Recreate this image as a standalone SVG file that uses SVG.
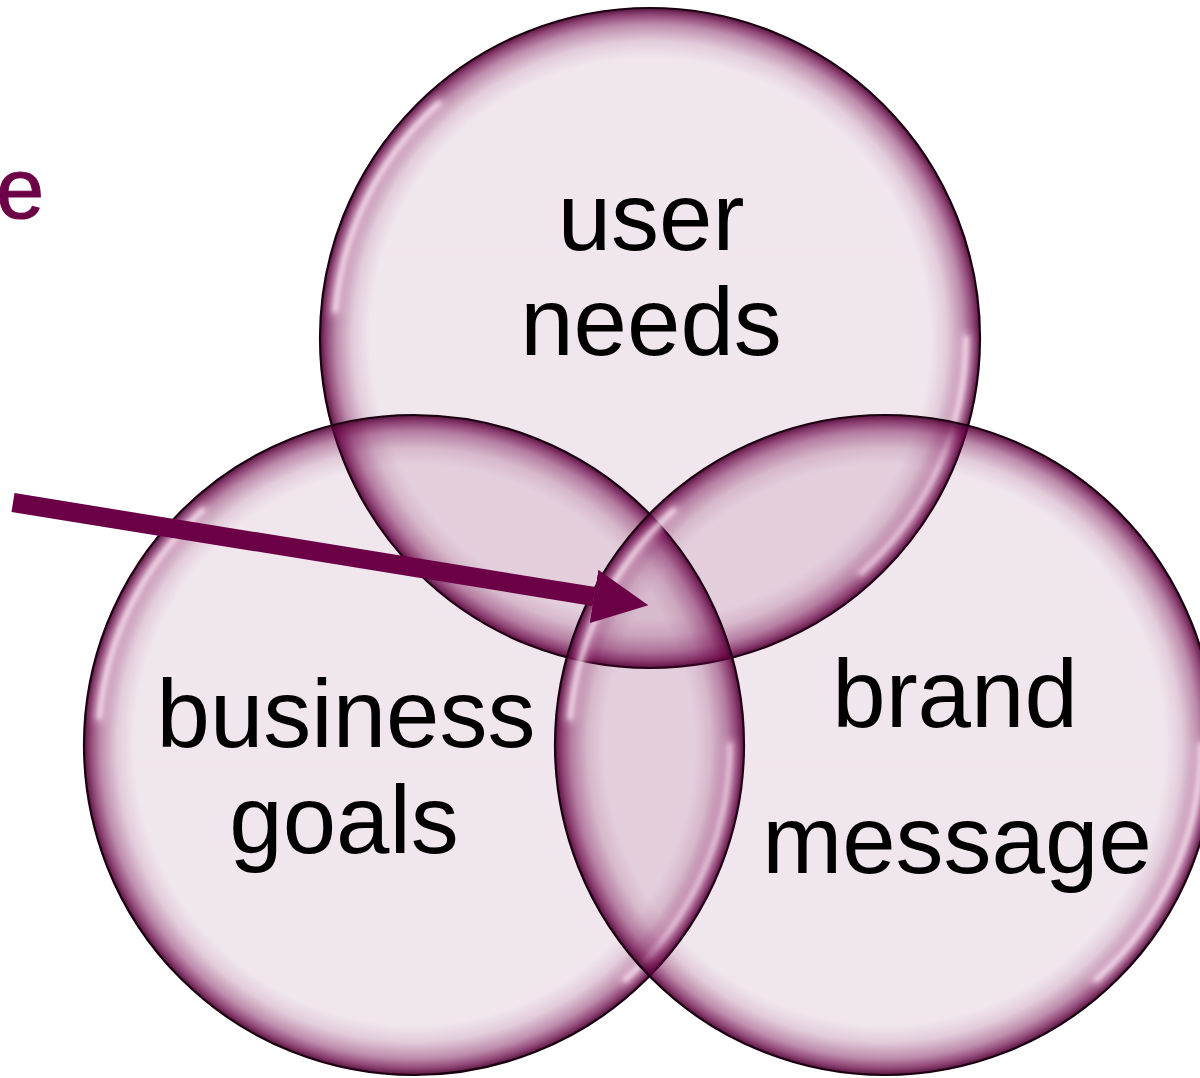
<svg xmlns="http://www.w3.org/2000/svg" xmlns:xlink="http://www.w3.org/1999/xlink" width="1200" height="1078" viewBox="0 0 1200 1078">
  <style>
    .label { font-family: "Liberation Sans", Arial, sans-serif; font-size: 96px; fill: #000; text-anchor: middle; }
    .note { font-family: "Liberation Sans", Arial, sans-serif; font-size: 86px; fill: #6c0046; text-anchor: end; stroke: #6c0046; stroke-width: 1.2; }
    .rim { fill: url(#rimFill); stroke: #1a0010; stroke-width: 2.2; }
    .shine { fill: none; stroke: #fff2fb; stroke-width: 4; stroke-linecap: round; filter: url(#soft); opacity: 0.75; }
    .glow { fill: none; stroke: #ffd8f0; stroke-width: 12; stroke-linecap: round; filter: url(#softer); opacity: 0.45; }
  </style>
  <defs>
    <!-- translucent bubble fill: pale in the middle, deepening purple at the rim -->
    <radialGradient id="rimFill" cx="0.5" cy="0.5" r="0.5">
      <stop offset="0" stop-color="#6e0048" stop-opacity="0.1"/>
      <stop offset="0.85" stop-color="#6e0048" stop-opacity="0.1"/>
      <stop offset="0.9" stop-color="#6e0048" stop-opacity="0.2"/>
      <stop offset="0.95" stop-color="#6e0048" stop-opacity="0.45"/>
      <stop offset="0.98" stop-color="#650042" stop-opacity="0.72"/>
      <stop offset="1" stop-color="#4a0030" stop-opacity="0.92"/>
    </radialGradient>
    <filter id="soft" x="-20%" y="-20%" width="140%" height="140%">
      <feGaussianBlur stdDeviation="2.2"/>
    </filter>
    <filter id="softer" x="-20%" y="-20%" width="140%" height="140%">
      <feGaussianBlur stdDeviation="4"/>
    </filter>
    <!-- one glassy bubble, centred on the origin -->
    <g id="bubble">
      <circle class="rim" cx="0" cy="0" r="330"/>
      <path class="glow" d="M-314.8,-27.5 A316,316 0 0 1 -211.4,-234.8"/>
      <path class="shine" d="M-314.8,-27.5 A316,316 0 0 1 -211.4,-234.8"/>
      <path class="glow" d="M316,0 A316,316 0 0 1 211.4,234.8"/>
      <path class="shine" d="M316,0 A316,316 0 0 1 211.4,234.8"/>
    </g>
    <marker id="head" markerUnits="userSpaceOnUse" viewBox="0 0 55 54" refX="0" refY="27" markerWidth="55" markerHeight="54" orient="auto">
      <path d="M0,0 L55,27 L0,54 Z" fill="#6c0046"/>
    </marker>
  </defs>

  <rect width="1200" height="1078" fill="#ffffff"/>

  <text class="note" x="44" y="218">ce</text>

  <g id="node-user-needs">
    <use href="#bubble" xlink:href="#bubble" transform="translate(650,338)"/>
    <text class="label" x="651" y="250">user</text>
    <text class="label" x="651" y="355">needs</text>
  </g>

  <g id="node-business-goals">
    <use href="#bubble" xlink:href="#bubble" transform="translate(414,745)"/>
    <text class="label" x="346" y="747">business</text>
    <text class="label" x="344" y="853">goals</text>
  </g>

  <g id="node-brand-message">
    <use href="#bubble" xlink:href="#bubble" transform="translate(885,745)"/>
    <text class="label" x="955" y="727">brand</text>
    <text class="label" x="957" y="873">message</text>
  </g>

  <g id="connectors">
    <path d="M13,502.5 L594,596.5" fill="none" stroke="#6c0046" stroke-width="19" marker-end="url(#head)"/>
  </g>
</svg>
